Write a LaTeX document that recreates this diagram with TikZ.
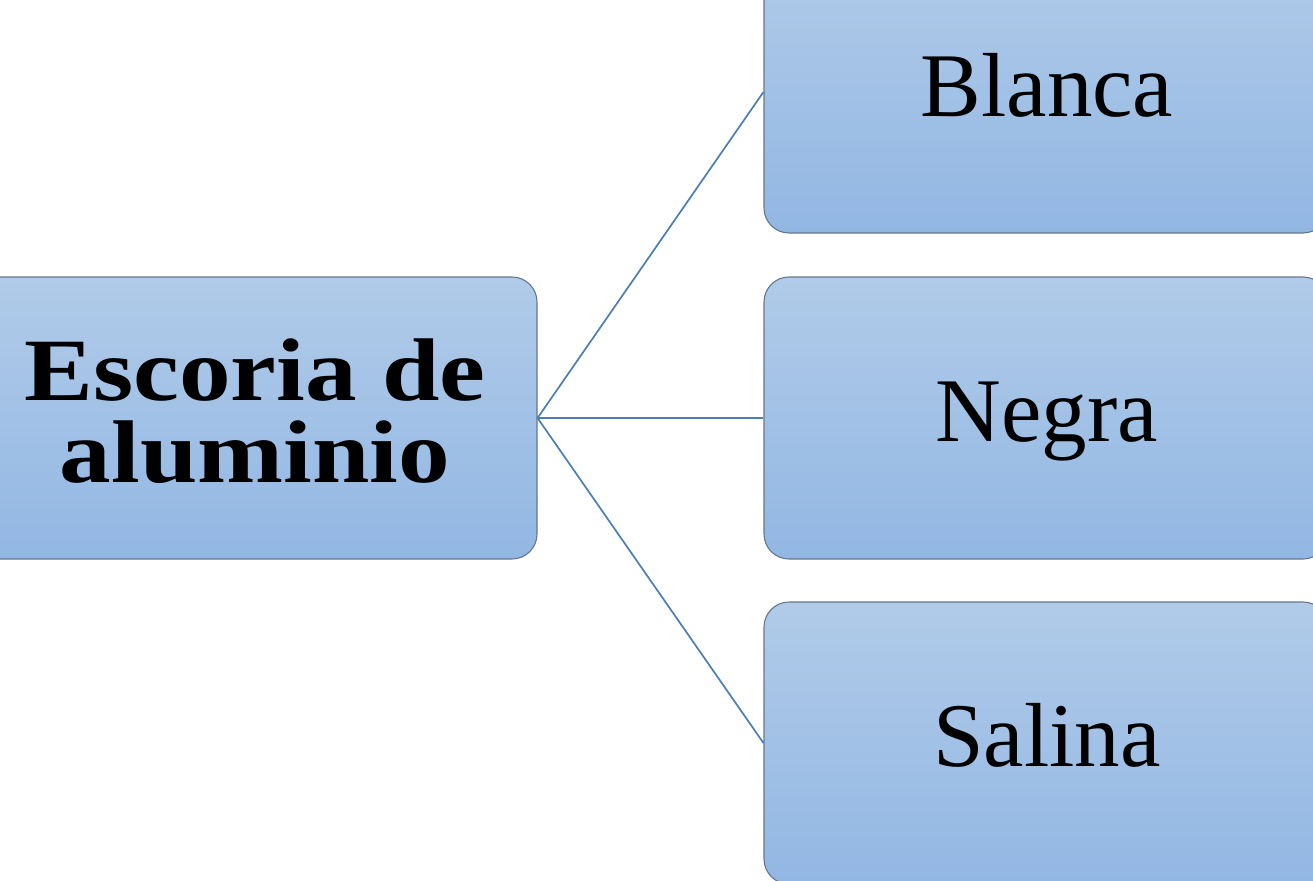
\documentclass[tikz,border=0pt]{standalone}
\usepackage{fontspec}
\setmainfont{Liberation Serif}
\newfontfamily\boldwide{Liberation Serif}[FakeStretch=1.16]
\definecolor{boxtop}{HTML}{B1CBE9}
\definecolor{boxbot}{HTML}{92B7E3}
\definecolor{boxline}{HTML}{66778C}
\definecolor{connline}{HTML}{4A7EB5}
\tikzset{
  box/.style={rectangle, rounded corners=25pt, draw=boxline, line width=1.1pt,
    top color=boxtop, bottom color=boxbot, minimum width=564pt, minimum height=282pt, inner sep=0pt},
  conn/.style={draw=connline, line width=1.7pt},
  lbl/.style={anchor=base, inner sep=0pt, font=\fontsize{91}{100}\selectfont},
  blbl/.style={anchor=base, inner sep=0pt, font=\boldwide\bfseries\fontsize{89}{82}\selectfont}
}
\begin{document}
\begin{tikzpicture}[x=1pt,y=-1pt]
\useasboundingbox (0,0) rectangle (1313,880);
\clip (0,0) rectangle (1313,880);
\node[box] (src) at (255,418) {};
\node[box] (b1) at (1046,92) {};
\node[box] (b2) at (1046,418) {};
\node[box] (b3) at (1046,743) {};
\draw[conn] (src.east) -- (b1.west);
\draw[conn] (src.east) -- (b2.west);
\draw[conn] (src.east) -- (b3.west);
\node[blbl] (t1) at (255,400) {Escoria de};
\node[blbl] (t2) at (255,482) {aluminio};
\node[lbl] (l1) at (1047,117) {Blanca};
\node[lbl] (l2) at (1047,441) {Negra};
\node[lbl] (l3) at (1047,766) {Salina};
\end{tikzpicture}
\end{document}
